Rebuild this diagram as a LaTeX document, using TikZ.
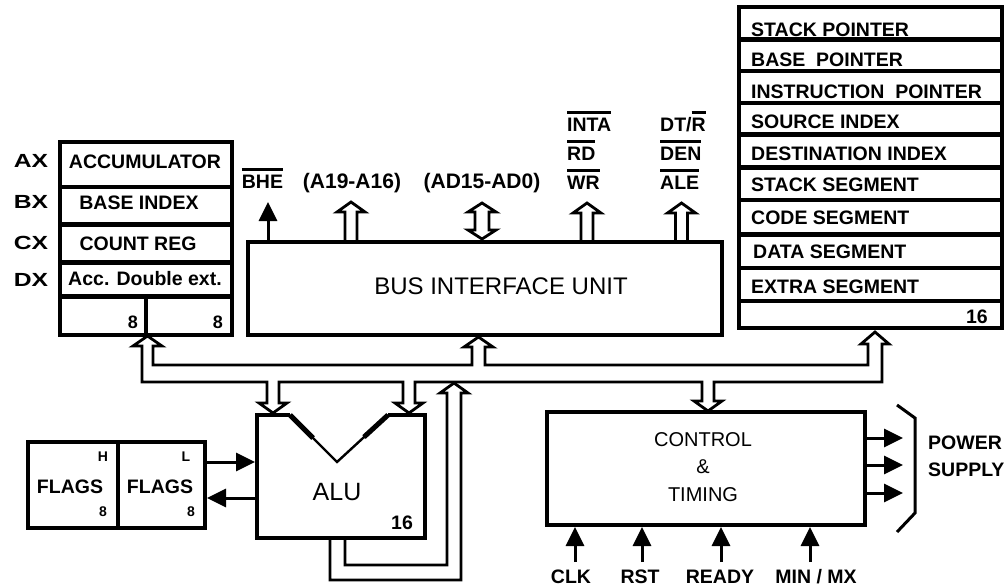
\documentclass[tikz,border=0pt]{standalone}
\usepackage{fontspec}
\setmainfont{Liberation Sans}
\usetikzlibrary{arrows.meta}
\newcommand\barred[1]{\leavevmode\vbox{\hrule height 2.4pt\kern 4pt\hbox{#1}}}
\newcommand\fsz[1]{\fontsize{#1}{#1}\selectfont}
\tikzset{
  box/.style={draw, line width=4.6pt},
  sepline/.style={line width=4.2pt},
  bus/.style={line width=2.8pt, line join=miter},
  lbl/.style={font=\bfseries\fsz{19.5}, inner sep=0pt},
  sml/.style={font=\bfseries\fsz{14}, inner sep=0pt},
  reglbl/.style={font=\bfseries\fsz{19}, inner sep=0pt},
  sig/.style={line width=3pt, -{Triangle[length=19pt,width=18pt]}},
}
\begin{document}
\begin{tikzpicture}[x=1pt,y=-1pt]
\useasboundingbox[fill=white] (0,0) rectangle (1007,587);

% ---------- general purpose registers ----------
\draw[box] (60,142) rectangle (232,335);
\foreach \yy in {187,224.5,262.5,296.5} \draw[sepline] (60,\yy) -- (232,\yy);
\draw[sepline] (146,296.5) -- (146,335);
\node[lbl] (acc) at (145,162) {ACCUMULATOR};
\node[lbl] (bix) at (139,203) {BASE INDEX};
\node[lbl] (cnt) at (138,244) {COUNT REG};
\node[lbl] (dbl) at (145,279) {Acc. Double ext.};
\node[font=\bfseries\fsz{18}, inner sep=0pt] (g8a) at (133,322) {8};
\node[font=\bfseries\fsz{18}, inner sep=0pt] (g8b) at (218,322) {8};
\node[reglbl] (ax) at (31,161) {\scalebox{1.3}[1]{AX}};
\node[reglbl] (bx) at (31,202) {\scalebox{1.3}[1]{BX}};
\node[reglbl] (cx) at (31,243) {\scalebox{1.3}[1]{CX}};
\node[reglbl] (dx) at (31,280) {\scalebox{1.3}[1]{DX}};

% ---------- segment / pointer registers ----------
\draw[box] (739,7) rectangle (1002,328);
\foreach \yy in {39.5,71,103,134.5,167.5,200,234.5,268,301} \draw[sepline] (739,\yy) -- (1002,\yy);
\node[lbl, anchor=west] (sp) at (751,30) {STACK POINTER};
\node[lbl, anchor=west] (bp) at (751,60) {BASE\ \ POINTER};
\node[lbl, anchor=west] (ip) at (751,91.5) {INSTRUCTION\ \ POINTER};
\node[lbl, anchor=west] (si) at (751,121.5) {SOURCE INDEX};
\node[lbl, anchor=west] (di) at (751,153.5) {DESTINATION INDEX};
\node[lbl, anchor=west] (ss) at (751,185) {STACK SEGMENT};
\node[lbl, anchor=west] (cs) at (751,218) {CODE SEGMENT};
\node[lbl, anchor=west] (ds) at (753,251.5) {DATA SEGMENT};
\node[lbl, anchor=west] (es) at (751,286.5) {EXTRA SEGMENT};
\node[lbl, anchor=east] (s16) at (988,316.5) {16};

% ---------- bus interface unit ----------
\draw[box] (248,242) rectangle (722,335);
\node[font=\fsz{24}, inner sep=0pt] (biu) at (501,286) {BUS INTERFACE UNIT};

% signals above BIU
\draw[sig] (268,240) -- (268,202);
\node[lbl, anchor=base] (bhe) at (262.5,188) {\barred{BHE}};
\draw[bus] (345,240) -- (345,212) -- (337,212) -- (351,202) -- (365,212) -- (357,212) -- (357,240);
\node[lbl, font=\bfseries\fsz{21}, anchor=base] (ahi) at (352,188) {(A19-A16)};
\draw[bus] (482,203) -- (496,212) -- (489,212) -- (489,230) -- (496,230) -- (482,239) -- (468,230) -- (475,230) -- (475,212) -- (468,212) -- cycle;
\node[lbl, font=\bfseries\fsz{21}, anchor=base] (ad) at (482,188) {(AD15-AD0)};
\draw[bus] (581,240) -- (581,213) -- (573,213) -- (587,203) -- (601,213) -- (593,213) -- (593,240);
\node[lbl, anchor=base west] (inta) at (567,131) {\barred{INTA}};
\node[lbl, anchor=base west] (rd) at (567,160) {\barred{RD}};
\node[lbl, anchor=base west] (wr) at (567,189) {\barred{WR}};
\draw[bus] (675.5,240) -- (675.5,213) -- (667.5,213) -- (681.5,203) -- (695.5,213) -- (687.5,213) -- (687.5,240);
\node[lbl, anchor=base west] (dtr) at (660,131) {DT/\barred{R}};
\node[lbl, anchor=base west] (den) at (660,160) {\barred{DEN}};
\node[lbl, anchor=base west] (ale) at (660,189) {\barred{ALE}};

% ---------- internal bus ----------
\draw[bus] (142,346) -- (142,382) -- (267,382) -- (267,403) -- (259,403) -- (273,413) -- (287,403) -- (279,403) -- (279,382)
  -- (403,382) -- (403,403) -- (395,403) -- (409,413) -- (423,403) -- (415,403) -- (415,382)
  -- (702,382) -- (702,401) -- (694,401) -- (708,411) -- (722,401) -- (714,401) -- (714,382)
  -- (882,382) -- (882,344) -- (889,344) -- (875,332) -- (861,344) -- (868,344) -- (868,365)
  -- (485,365) -- (485,347) -- (493,347) -- (478.5,337) -- (464,347) -- (472,347) -- (472,365)
  -- (153,365) -- (153,346) -- (162,346) -- (147.5,336) -- (133,346) -- cycle;

% ALU feedback to bus
\draw[bus] (330,540) -- (330,580) -- (461,580) -- (461,393) -- (468,393) -- (454,383) -- (440,393) -- (447,393) -- (447,565) -- (345,565) -- (345,540);

% ---------- ALU ----------
\draw[box, line join=miter] (290,415) -- (257,415) -- (257,538) -- (425,538) -- (425,415) -- (388,415);
\draw[line width=2.4pt] (290,415) -- (337,462) -- (388,415);
\draw[line width=5pt] (290,415) -- (313,438);
\draw[line width=5pt] (388,415) -- (364,437);
\node[font=\fsz{25}, inner sep=0pt] (alu) at (337,492) {ALU};
\node[lbl] (a16) at (402,523) {16};

% ---------- flags ----------
\draw[box] (28,442) rectangle (205,528);
\draw[sepline] (118,442) -- (118,528);
\node[sml] (fh) at (103,457) {H};
\node[sml] (fl) at (186,457) {L};
\node[lbl] (flagh) at (70,487) {FLAGS};
\node[lbl] (flagl) at (160,487) {FLAGS};
\node[sml] (f8a) at (103,512) {8};
\node[sml] (f8b) at (191,512) {8};
\draw[sig] (205,462) -- (255,462);
\draw[sig] (255,498) -- (207,498);

% ---------- control & timing ----------
\draw[box] (547,412) rectangle (865,525);
\node[font=\fsz{20}, inner sep=0pt] (ctl) at (703,440) {CONTROL};
\node[font=\fsz{20}, inner sep=0pt] (amp) at (703,467) {\&};
\node[font=\fsz{20}, inner sep=0pt] (tim) at (703,495) {TIMING};
\draw[sig] (865,438) -- (903,438);
\draw[sig] (865,465) -- (903,465);
\draw[sig] (865,493) -- (903,493);
\draw[line width=3pt] (897,405) -- (915,418) -- (915,513) -- (897,532);
\node[lbl, anchor=west] (pw) at (928,443) {POWER};
\node[lbl, anchor=west] (su) at (928,470) {SUPPLY};
\draw[sig] (575,562) -- (575,527);
\draw[sig] (642,562) -- (642,527);
\node[coordinate] (rdyin) at (721,562) {};
\draw[sig] (rdyin) -- (721,527);
\draw[sig] (810,562) -- (810,527);
\node[lbl] (clk) at (571,577) {CLK};
\node[lbl] (rst) at (640,577) {RST};
\node[lbl] (rdy) at (720,577) {READY};
\node[lbl] (mnmx) at (816,577) {MIN / MX};
\end{tikzpicture}
\end{document}
